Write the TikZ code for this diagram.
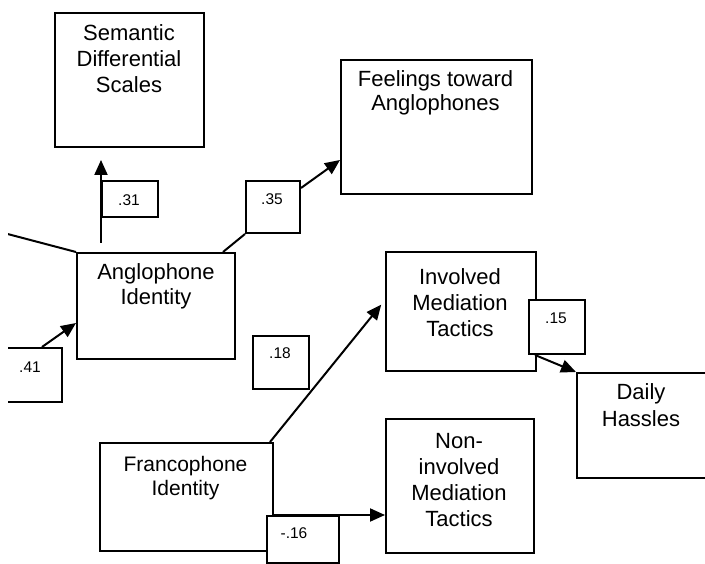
\documentclass[tikz,border=0pt]{standalone}
\usepackage{fontspec}
\setmainfont{Liberation Sans}
\usetikzlibrary{arrows.meta}
\begin{document}
\begin{tikzpicture}[x=1pt,y=-1pt,
  box/.style={draw, line width=2pt, fill=white, inner sep=0pt, anchor=north west},
  txt/.style={font=\fontsize{22}{26}\selectfont, align=center, anchor=base, inner sep=0pt},
  num/.style={font=\fontsize{15.5}{18}\selectfont, inner sep=0pt},
  link/.style={line width=2pt},
  arr/.style={link, -{Triangle[length=15pt,width=13pt]}}]
\useasboundingbox (0,0) rectangle (705,564);
\begin{scope}
\clip (8,0) rectangle (705,564);
% variable boxes
\node[box, minimum width=149pt, minimum height=134pt] (sem)  at (54,12)   {};
\node[box, minimum width=191pt, minimum height=134pt] (feel) at (340,59)  {};
\node[box, minimum width=158pt, minimum height=106pt] (ang)  at (76,252)  {};
\node[box, minimum width=173pt, minimum height=108pt] (fra)  at (99,442)  {};
\node[box, minimum width=150pt, minimum height=119pt] (inv)  at (385,251) {};
\node[box, minimum width=160pt, minimum height=105pt] (dh)   at (576,372) {};
\node[box, minimum width=148pt, minimum height=134pt] (non)  at (385,418) {};
% coefficient boxes
\node[box, minimum width=56pt, minimum height=36pt] (b31) at (101,180) {};
\node[box, minimum width=54pt, minimum height=52pt] (b35) at (245,180) {};
\node[box, minimum width=81pt, minimum height=54pt] (b41) at (-20,347) {};
\node[box, minimum width=56pt, minimum height=53pt] (b18) at (252,335) {};
\node[box, minimum width=56pt, minimum height=54pt] (b15) at (528,299) {};
\node[box, minimum width=72pt, minimum height=47pt] (b16) at (266,515) {};
% box texts (positioned by the baseline of their last line)
\node[txt] (tsem)  at (129,93)    {Semantic\\Differential\\Scales};
\node[txt, font=\fontsize{22}{24}\selectfont] (tfeel) at (435.5,111) {Feelings toward\\Anglophones};
\node[txt, font=\fontsize{22}{25}\selectfont] (tang)  at (156,305)   {Anglophone\\Identity};
\node[txt, font=\fontsize{21}{24}\selectfont] (tfra)  at (185.5,495) {Francophone\\Identity};
\node[txt] (tinv)  at (460,337)   {Involved\\Mediation\\Tactics};
\node[txt, font=\fontsize{22}{28}\selectfont] (tdh)   at (641,427)   {Daily\\Hassles};
\node[txt] (tnon)  at (459,526)   {Non-\\involved\\Mediation\\Tactics};
% coefficients
\node[num] (n31) at (129,200) {.31};
\node[num] (n35) at (272,199) {.35};
\node[num] (n41) at (30,367)  {.41};
\node[num] (n18) at (280,353) {.18};
\node[num] (n15) at (556,318) {.15};
\node[num] (n16) at (294,533) {-.16};
% paths
\coordinate (src) at (0,232);
\draw[link] (src) -- (ang.north west);
\draw[arr, shorten <=9pt, shorten >=12pt] (ang.north -| b31.west) -- (sem.south -| b31.west);
\draw[link] ([xshift=-13pt]ang.north east) -- (b35.south west);
\draw[arr] ([yshift=-8pt]b35.north east) -- ([yshift=-101pt]feel.north west);
\draw[arr] ([xshift=-21pt]b41.north east) -- ([yshift=-71pt]ang.north west);
\draw[arr, shorten >=6pt] ([xshift=-4pt]fra.north east) -- ([yshift=-49pt]inv.north west);
\draw[arr] ([xshift=7pt]b15.south west) -- (dh.north west);
\draw[arr] (fra.east |- b16.north) -- (non.west |- b16.north);
\end{scope}
\end{tikzpicture}
\end{document}
